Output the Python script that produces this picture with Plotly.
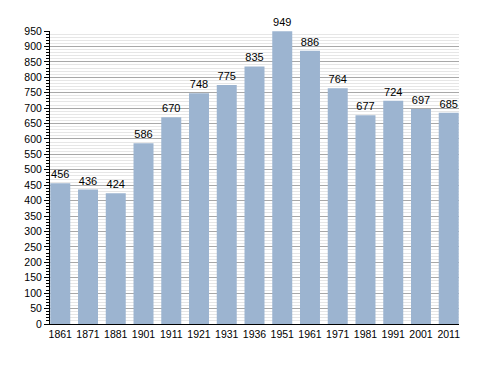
import plotly.graph_objects as go

years = ["1861", "1871", "1881", "1901", "1911", "1921", "1931", "1936",
         "1951", "1961", "1971", "1981", "1991", "2001", "2011"]
population = [456, 436, 424, 586, 670, 748, 775, 835, 949, 886, 764, 677, 724, 697, 685]
y_ticks = list(range(0, 951, 50))

fig = go.Figure(go.Bar(
    x=list(range(len(years))), y=population,
    marker=dict(color="#9cb4d0", line=dict(width=0)),
    text=[str(v) for v in population], textposition="outside",
    textfont=dict(family="Liberation Sans, Arial", size=11, color="#000"),
    cliponaxis=False, width=0.72,
))

fig.update_layout(
    width=488, height=373,
    margin=dict(l=42, r=37, t=23, b=57),
    paper_bgcolor="white", plot_bgcolor="white",
    showlegend=False,
    font=dict(family="Liberation Sans, Arial", size=10.5, color="#000"),
    xaxis=dict(
        tickmode="array", tickvals=list(range(len(years))), ticktext=years,
        range=[-0.37, 14.37], showgrid=False, showline=True, linecolor="#000",
        linewidth=1, ticks="", zeroline=False,
    ),
    yaxis=dict(
        range=[0, 950], tickmode="array", tickvals=y_ticks,
        showgrid=True, gridcolor="#a8a8a8", gridwidth=1,
        showline=True, linecolor="#000", linewidth=1,
        ticks="outside", ticklen=5, tickcolor="#000",
        zeroline=False,
        minor=dict(dtick=10, showgrid=True, gridcolor="#e6e6e6", gridwidth=1,
                   ticks="outside", ticklen=3, tickcolor="#000"),
    ),
    bargap=0.25,
)

fig.write_html("out.html")
